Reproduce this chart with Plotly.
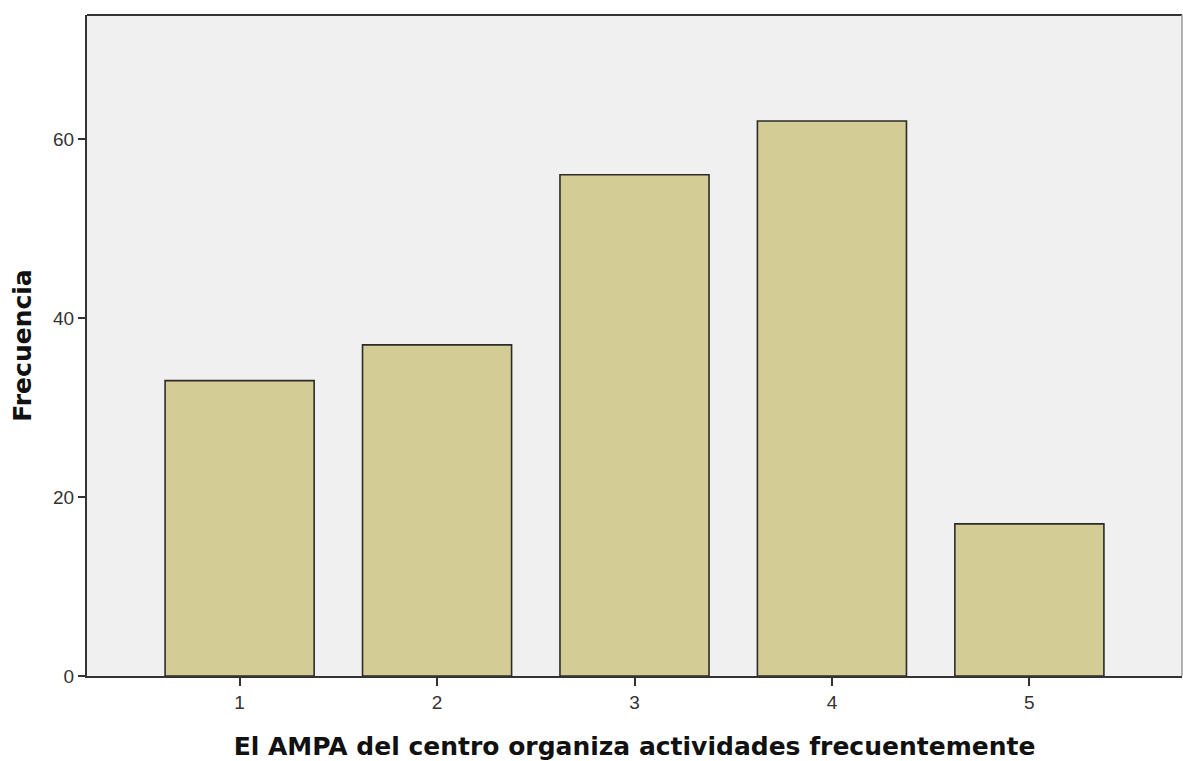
import plotly.graph_objects as go

categories = [1, 2, 3, 4, 5]
frecuencia = [33, 37, 56, 62, 17]
y_ticks = [0, 20, 40, 60]

fig = go.Figure()
fig.add_trace(go.Bar(
    x=categories, y=frecuencia, width=0.755,
    marker=dict(color="#D3CD95", line=dict(color="#2B2B2B", width=1.6)),
))

fig.update_layout(
    width=1183, height=761,
    margin=dict(l=87, r=1, t=15, b=85),
    paper_bgcolor="white", plot_bgcolor="#EFF0EF",
    showlegend=False,
    font=dict(family="Liberation Sans, Arial, sans-serif", color="#222"),
    xaxis=dict(
        range=[0.227, 5.773], tickvals=categories, ticktext=[str(c) for c in categories],
        showgrid=False, zeroline=False,
        showline=True, linecolor="#333", linewidth=2,
        ticks="outside", ticklen=8, tickcolor="#333", tickwidth=2,
        tickfont=dict(size=19, color="#333"),
        title=dict(text="<b>El AMPA del centro organiza actividades frecuentemente</b>",
                   font=dict(family="DejaVu Sans, sans-serif", size=25, color="#111"), standoff=28),
    ),
    yaxis=dict(
        range=[0, 73.85], tickvals=y_ticks,
        showgrid=False, zeroline=False,
        showline=True, linecolor="#333", linewidth=2,
        ticks="outside", ticklen=7, tickcolor="#333", tickwidth=2,
        tickfont=dict(size=19, color="#333"),
        title=dict(text="<b>Frecuencia</b>",
                   font=dict(family="DejaVu Sans, sans-serif", size=25, color="#111"), standoff=14),
    ),
    shapes=[
        dict(type="line", xref="paper", yref="paper", x0=0, x1=1, y0=1, y1=1,
             line=dict(color="#333", width=2)),
        dict(type="line", xref="paper", yref="paper", x0=1, x1=1, y0=0, y1=1,
             line=dict(color="#999", width=1.5)),
    ],
)

fig.write_html("out.html", config={"displayModeBar": False},
               post_script="document.body.style.margin='0';")
